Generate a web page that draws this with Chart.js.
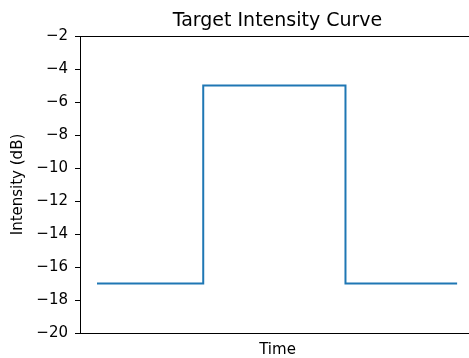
<!DOCTYPE html>
<html><head><meta charset="utf-8">
<script src="https://cdn.jsdelivr.net/npm/chart.js@4/dist/chart.umd.min.js"></script>
<style>html,body{margin:0;padding:0;background:#fff;overflow:hidden}#wrap{width:469px;height:358px}</style>
</head><body><div id="wrap"><canvas id="c" width="469" height="358"></canvas></div>
<script>
const times = [0, 29.5, 29.5, 69, 69, 100];
const intensity = [-17, -17, -5, -5, -17, -17];
const yTicks = [-20, -18, -16, -14, -12, -10, -8, -6, -4, -2];
const titleText = 'Target Intensity Curve';
const xLabel = 'Time';
const yLabel = 'Intensity (dB)';

const FONT = '"DejaVu Sans", sans-serif';
Chart.defaults.font.family = FONT;
Chart.defaults.color = '#000';

// full axes box in matplotlib extends slightly past the canvas right edge
const AXES_RIGHT = 475;

const decor = {
  id: 'decor',
  afterDraw(chart) {
    const a = chart.chartArea, ctx = chart.ctx;
    ctx.save();
    ctx.strokeStyle = '#000'; ctx.lineWidth = 1;
    ctx.beginPath(); ctx.moveTo(a.left, a.top + 0.5); ctx.lineTo(chart.width, a.top + 0.5); ctx.stroke();
    const cx = (a.left + AXES_RIGHT) / 2;
    ctx.fillStyle = '#000';
    ctx.textAlign = 'center'; ctx.textBaseline = 'alphabetic';
    ctx.font = '19px ' + FONT;
    ctx.fillText(titleText, cx, 26);
    ctx.font = '15px ' + FONT;
    ctx.fillText(xLabel, cx, 354);
    ctx.restore();
  }
};

new Chart(document.getElementById('c'), {
  type: 'line',
  data: {
    datasets: [{
      data: times.map((t, i) => ({x: t, y: intensity[i]})),
      borderColor: '#1f77b4', borderWidth: 2, pointRadius: 0, tension: 0, fill: false
    }]
  },
  options: {
    responsive: false, animation: false, maintainAspectRatio: false,
    layout: {padding: {left: 0, right: 0, top: 36, bottom: 0}},
    plugins: {
      legend: {display: false}, tooltip: {enabled: false}, title: {display: false}
    },
    scales: {
      x: {
        type: 'linear', min: -4.72, max: 103.3,
        ticks: {display: false},
        grid: {display: false},
        border: {display: true, color: '#000', width: 1},
        title: {display: false},
        afterFit(s) { s.height = 25; }
      },
      y: {
        min: -20, max: -2,
        afterBuildTicks(s) { s.ticks = yTicks.map(v => ({value: v})); },
        ticks: {font: {size: 15}, color: '#000', padding: 7, callback: v => String(v).replace('-', '\u2212')},
        grid: {drawOnChartArea: false, drawTicks: true, tickLength: 5, tickColor: '#000'},
        border: {display: true, color: '#000', width: 1},
        title: {display: true, text: yLabel, color: '#000', font: {size: 15}, padding: {top: 9, bottom: 0}},
        afterFit(s) { s.width = 80; }
      }
    }
  },
  plugins: [decor]
});
</script></body></html>
